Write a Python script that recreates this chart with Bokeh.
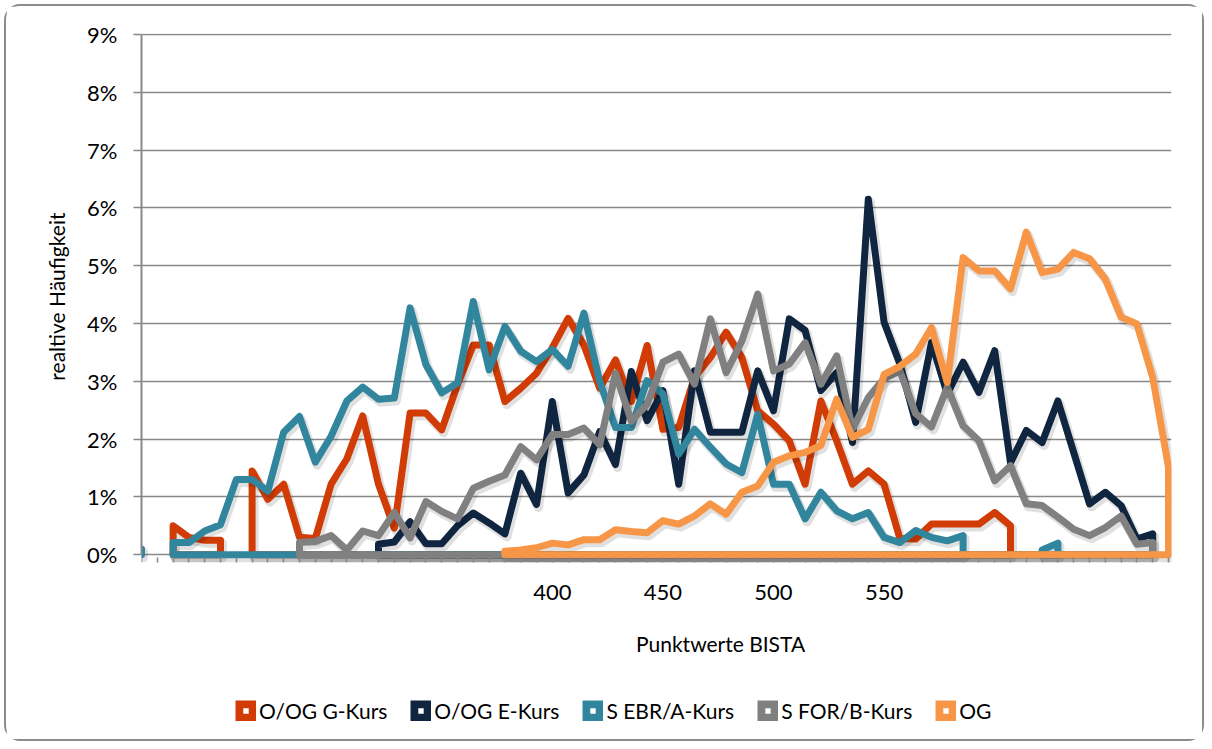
import math
from bokeh.plotting import figure
from bokeh.models import (Range1d, FixedTicker, PrintfTickFormatter, Label,
                          Legend, LegendItem, Title)
from bokeh.embed import file_html
from bokeh.resources import INLINE

# ---------------- data ----------------
N_CATEGORIES = 66
tick_labels = {26: "400", 33: "450", 40: "500", 47: "550"}
y_ticks = list(range(10))

series_names = ["O/OG G-Kurs", "O/OG E-Kurs", "S EBR/A-Kurs", "S FOR/B-Kurs", "OG"]
series_colors = ["#D13B05", "#0F2540", "#31869E", "#808080", "#F79646"]

og_g_kurs = [None, None, 0.50, 0.30, 0.25, 0.25, None, 1.45, 0.96, 1.22, 0.30, 0.28,
             1.22, 1.66, 2.40, 1.22, 0.46, 2.45, 2.45, 2.16, 2.94, 3.63, 3.63, 2.65,
             2.88, 3.14, 3.58, 4.09, 3.63, 2.88, 3.37, 2.65, 3.62, 2.17, 2.20, 3.07,
             3.41, 3.85, 3.41, 2.49, 2.26, 1.97, 1.22, 2.66, 1.97, 1.22, 1.45, 1.22,
             0.28, 0.27, 0.53, 0.53, 0.53, 0.53, 0.73, 0.50]
og_e_kurs = [None] * 15 + [0.18, 0.22, 0.57, 0.19, 0.19, 0.50, 0.72, 0.55, 0.36, 1.41,
             0.87, 2.65, 1.07, 1.38, 2.13, 1.56, 3.17, 2.32, 2.84, 1.22, 3.18, 2.12,
             2.12, 2.12, 3.18, 2.49, 4.08, 3.88, 2.84, 3.15, 1.94, 6.15, 4.02, 3.30,
             2.29, 3.67, 2.78, 3.33, 2.81, 3.53, 1.59, 2.15, 1.94, 2.66, 1.77, 0.88,
             1.08, 0.85, 0.27, 0.36]
s_ebr_a_kurs = [0.10, None, 0.21, 0.21, 0.41, 0.52, 1.30, 1.30, 1.10, 2.12, 2.39, 1.60,
                2.05, 2.66, 2.90, 2.69, 2.71, 4.27, 3.29, 2.80, 2.97, 4.38, 3.20, 3.95,
                3.52, 3.34, 3.55, 3.26, 4.18, 3.00, 2.20, 2.20, 3.01, 2.78, 1.74, 2.17,
                1.86, 1.57, 1.42, 2.43, 1.22, 1.22, 0.62, 1.08, 0.76, 0.62, 0.73, 0.30,
                0.21, 0.42, 0.30, 0.24, 0.33, None, None, None, None, 0.08, 0.20]
s_for_b_kurs = [None] * 10 + [0.21, 0.23, 0.33, 0.08, 0.41, 0.33, 0.73, 0.29, 0.92, 0.75,
                0.62, 1.15, 1.27, 1.38, 1.87, 1.64, 2.08, 2.08, 2.19, 1.90, 3.14, 2.31,
                2.60, 3.33, 3.47, 2.95, 4.08, 3.15, 3.70, 4.51, 3.18, 3.30, 3.67, 2.95,
                3.44, 2.17, 2.72, 3.05, 3.18, 2.44, 2.21, 2.90, 2.23, 1.97, 1.28, 1.54,
                0.88, 0.85, 0.65, 0.44, 0.33, 0.47, 0.67, 0.18, 0.21]
og = [None] * 23 + [0.06, 0.08, 0.12, 0.20, 0.17, 0.26, 0.26, 0.43, 0.40, 0.38, 0.59,
      0.53, 0.67, 0.88, 0.70, 1.08, 1.19, 1.60, 1.71, 1.77, 1.89, 2.69, 2.03, 2.17,
      3.12, 3.26, 3.47, 3.93, 2.98, 5.14, 4.91, 4.91, 4.60, 5.58, 4.88, 4.94, 5.23,
      5.12, 4.77, 4.11, 3.99, 3.07, 1.51]

all_series = [og_g_kurs, og_e_kurs, s_ebr_a_kurs, s_for_b_kurs, og]

# ---------------- layout constants ----------------
FIG_W, FIG_H = 1200, 737
FRAME_W, FRAME_H = 1030, 702
BORDER_L, BORDER_T = 135, 27
PX_PER_PCT = 57.8
X_RANGE = (0, 65.19)
Y_TOP = 9 + 1 / PX_PER_PCT
Y_RANGE = (Y_TOP - FRAME_H / PX_PER_PCT, Y_TOP)
FONT = "Lato"
FS = "21px"
FS_TICK = "22px"
GRID_COLOR = "#888888"
LINE_W = 7


def outlines(values):
    """Area-style outlines: for every contiguous run of values, a closed path."""
    vals = list(values) + [None] * (N_CATEGORIES - len(values))
    xs_all, ys_all = [], []
    run = []
    for i, v in enumerate(vals + [None]):
        if v is None:
            if run:
                xs = [run[0][0]] + [r[0] for r in run] + [run[-1][0]]
                ys = [0.0] + [r[1] for r in run] + [0.0]
                xs_all.append(xs)
                ys_all.append(ys)
                run = []
        else:
            run.append((i, v))
    return xs_all, ys_all


p = figure(width=FIG_W, height=FIG_H, output_backend="svg", toolbar_location=None,
           x_range=Range1d(*X_RANGE), y_range=Range1d(*Y_RANGE),
           min_border_left=BORDER_L, min_border_top=BORDER_T,
           min_border_right=FIG_W - BORDER_L - FRAME_W,
           min_border_bottom=FIG_H - BORDER_T - FRAME_H)
p.styles = {"border": "2px solid #8c8c8c", "border-radius": "16px",
            "margin-left": "4px", "margin-top": "4px"}
p.outline_line_color = None
p.background_fill_color = "white"
p.border_fill_color = "white"

# grid
p.xgrid.grid_line_color = None
p.ygrid.ticker = FixedTicker(ticks=y_ticks)
p.ygrid.grid_line_color = GRID_COLOR
p.ygrid.grid_line_width = 1.6

# y axis
p.yaxis.ticker = FixedTicker(ticks=y_ticks)
p.yaxis.bounds = (y_ticks[0], y_ticks[-1])
p.yaxis.formatter = PrintfTickFormatter(format="%d%%")
p.yaxis.axis_line_color = GRID_COLOR
p.yaxis.axis_line_width = 2
p.yaxis.major_tick_line_color = GRID_COLOR
p.yaxis.major_tick_line_width = 1.6
p.yaxis.major_tick_out = 8
p.yaxis.major_tick_in = 0
p.yaxis.minor_tick_line_color = None
p.yaxis.major_label_standoff = 16
p.yaxis.major_label_text_font = FONT
p.yaxis.major_label_text_font_size = FS_TICK
p.yaxis.major_label_text_color = "black"

# y axis title, centred on the 0-9 % span
p.add_layout(Title(text="realtive Häufigkeit", align="right", offset=179, standoff=32,
                   text_font=FONT, text_font_size=FS, text_font_style="normal",
                   text_color="black"), "left")

# x axis, fixed at 0 %
p.xaxis.fixed_location = 0
p.xaxis.ticker = FixedTicker(ticks=list(range(N_CATEGORIES)))
p.xaxis.major_label_overrides = {i: tick_labels.get(i, "") for i in range(N_CATEGORIES)}
p.xaxis.axis_line_color = None
p.xaxis.major_tick_line_color = GRID_COLOR
p.xaxis.major_tick_line_width = 1.6
p.xaxis.major_tick_out = 8
p.xaxis.major_tick_in = -3
p.xaxis.minor_tick_line_color = None
p.xaxis.major_label_standoff = 22
p.xaxis.major_label_text_font = FONT
p.xaxis.major_label_text_font_size = FS_TICK
p.xaxis.major_label_text_color = "black"

# shadow offset in data units (2px right, 3px down)
dx = 2.0 * (X_RANGE[1] - X_RANGE[0]) / FRAME_W
dy = 3.0 / PX_PER_PCT

for values, color in zip(all_series, series_colors):
    xs, ys = outlines(values)
    p.patches(xs=[[x + dx for x in xx] for xx in xs], ys=[[y - dy for y in yy] for yy in ys],
              fill_color=None, line_color="black", line_alpha=0.12, line_width=LINE_W + 2,
              line_join="round")
    p.patches(xs=xs, ys=ys, fill_color=None, line_color=color, line_width=LINE_W,
              line_join="round")

# x axis title
p.add_layout(Label(x=36.65, y=-1.54, text="Punktwerte BISTA", text_align="center",
                   text_baseline="middle", text_font=FONT, text_font_size=FS,
                   text_color="black"))

# legend
nan = float("nan")
items = []
for name, color in zip(series_names, series_colors):
    r1 = p.line(x=[nan], y=[nan], line_color=color, line_width=21)
    r2 = p.scatter(x=[nan], y=[nan], marker="square", fill_color="white", line_color=color,
                   line_width=3)
    items.append(LegendItem(label=name, renderers=[r1, r2]))
legend = Legend(items=items, orientation="horizontal", location=(94, 12),
                glyph_width=21, glyph_height=21, label_standoff=3, spacing=23,
                padding=0, margin=0, border_line_color=None, background_fill_alpha=0,
                label_text_font=FONT, label_text_font_size=FS, label_text_color="black")
p.add_layout(legend)

open("out.html", "w").write(file_html(p, INLINE))
